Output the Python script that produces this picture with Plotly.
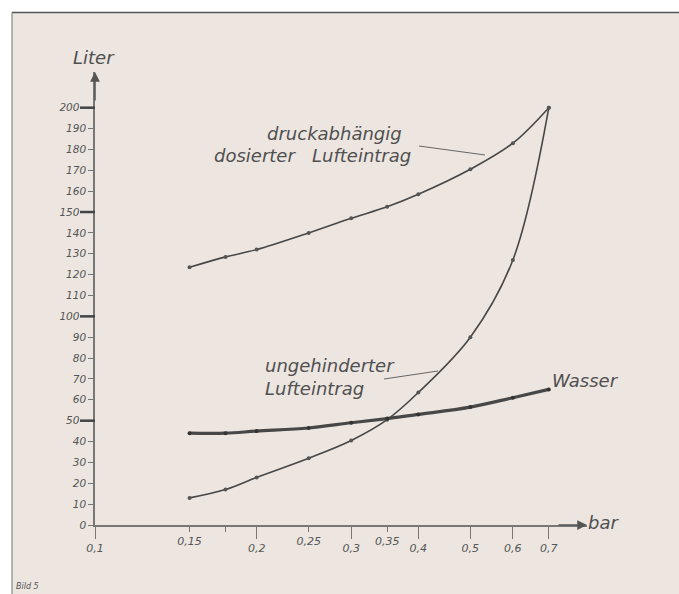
import plotly.graph_objects as go

# ---------------- data ----------------
pressure = [0.15, 0.175, 0.2, 0.25, 0.3, 0.35, 0.4, 0.5, 0.6, 0.7]
dosiert = [123.5, 128.5, 132, 140, 147, 152.5, 158.5, 170.5, 183, 200]
ungehindert = [13, 17, 22.8, 32, 40.5, 50.5, 63.5, 90, 127, 200]
wasser = [44, 44, 45, 46.5, 49, 51, 53, 56.5, 61, 65]

x_main_ticks = [0.1, 0.2, 0.3, 0.4, 0.5, 0.6, 0.7]
x_main_text = ["0,1", "0,2", "0,3", "0,4", "0,5", "0,6", "0,7"]
x_stag_ticks = [0.15, 0.175, 0.25, 0.35]
x_stag_text = ["0,15", "", "0,25", "0,35"]
y_ticks = list(range(0, 201, 10))
y_major = [50, 100, 150, 200]

# ---------------- layout helpers (window pixel coords) ----------------
L, R, T, B = 95, 587, 72, 525  # plot area in window pixels
W, H = 679, 594
def px(x):
    return (x - L) / (R - L)
def py(y):
    return (B - y) / (B - T)

INK = "#474747"
TXT = "#505050"
BG = "#ece5e0"
FONT = "DejaVu Sans"

fig = go.Figure()

def curve(y, name, width, mcolor):
    fig.add_trace(go.Scatter(
        x=pressure, y=y, name=name, mode="lines+markers",
        line=dict(color=INK, width=width, shape="spline", smoothing=1.0),
        marker=dict(size=4, color=mcolor, symbol="circle"),
        showlegend=False, hoverinfo="x+y"))

curve(dosiert, "druckabhängig dosierter Lufteintrag", 1.6, "#555")
curve(ungehindert, "ungehinderter Lufteintrag", 1.6, "#555")
curve(wasser, "Wasser", 3.2, "#333")

y_text = [("0" if v == 0 else (f"{v}\u00a0\u00a0" if v in y_major else str(v))) for v in y_ticks]
ytickfont = dict(family=FONT, size=10.5, color="#555", style="italic")
xtickfont = dict(family=FONT, size=11, color="#555", style="italic")

xr = [-1, -1 + (R - L) / 537.0]
yr = [0, (B - T) / 2.0865]

fig.update_layout(
    width=W, height=H, autosize=False,
    margin=dict(l=L, r=W - R, t=T, b=H - B, pad=0),
    paper_bgcolor=BG, plot_bgcolor="rgba(0,0,0,0)",
    xaxis=dict(type="log", range=xr, tickvals=x_main_ticks, ticktext=x_main_text,
               ticks="outside", ticklen=12, tickwidth=1, tickcolor="#777",
               showline=True, linecolor="#777", linewidth=1.5,
               showgrid=False, zeroline=False, tickfont=xtickfont),
    xaxis2=dict(type="log", range=xr, overlaying="x", anchor="y", side="bottom",
                tickvals=x_stag_ticks, ticktext=x_stag_text,
                ticks="outside", ticklen=6, tickwidth=1, tickcolor="#777",
                showline=False, showgrid=False, zeroline=False, tickfont=xtickfont),
    yaxis=dict(range=yr, tickvals=y_ticks, ticktext=y_text,
               ticks="outside", ticklen=5, tickwidth=1, tickcolor="#777",
               showline=True, linecolor="#777", linewidth=1.5,
               showgrid=False, zeroline=False, tickfont=ytickfont),
)
# dummy trace to activate xaxis2
fig.add_trace(go.Scatter(x=[0.15], y=[None], xaxis="x2", showlegend=False, hoverinfo="skip"))

shapes = [
    # white strips outside the scanned frame
    dict(type="rect", xref="paper", yref="paper", x0=px(-5), x1=px(700), y0=py(12.5), y1=py(-5),
         fillcolor="white", line=dict(width=0), layer="below"),
    dict(type="rect", xref="paper", yref="paper", x0=px(-5), x1=px(12), y0=py(620), y1=py(-5),
         fillcolor="white", line=dict(width=0), layer="below"),
    # frame border lines
    dict(type="line", xref="paper", yref="paper", x0=px(12), x1=px(700), y0=py(12.5), y1=py(12.5),
         line=dict(color="#555", width=1.5)),
    dict(type="line", xref="paper", yref="paper", x0=px(12), x1=px(12), y0=py(12.5), y1=py(620),
         line=dict(color="#888", width=1.2)),
]
for v in y_major:
    shapes.append(dict(type="line", xref="paper", yref="y", x0=px(80), x1=0, y0=v, y1=v,
                       line=dict(color="#444", width=2.5)))
# leader lines
shapes.append(dict(type="line", xref="paper", yref="paper", x0=px(419), y0=py(146), x1=px(485), y1=py(155),
                   line=dict(color="#666", width=1)))
shapes.append(dict(type="line", xref="paper", yref="paper", x0=px(384), y0=py(379), x1=px(438), y1=py(371),
                   line=dict(color="#666", width=1)))
fig.update_layout(shapes=shapes)

def text(t, x, y, size=18, anchor="left"):
    fig.add_annotation(text=t, xref="paper", yref="paper", x=px(x), y=py(y),
                       xanchor=anchor, yanchor="middle", showarrow=False,
                       font=dict(family=FONT, size=size, color=TXT, style="italic"))

text("druckabhängig", 265, 133)
text("dosierter\u00a0\u00a0 Lufteintrag", 212, 155)
text("ungehinderter", 263, 365)
text("Lufteintrag", 263, 388)
text("Wasser", 550, 381)
text("Liter", 71, 57)
text("bar", 586, 522)
text("Bild 5", 14, 586, size=8)

# axis arrows
fig.add_annotation(x=1, y=0, xref="paper", yref="paper", ax=-30, ay=0, text="",
                   showarrow=True, arrowhead=2, arrowsize=1.3, arrowwidth=1.5, arrowcolor="#555")
fig.add_annotation(x=0, y=1, xref="paper", yref="paper", ax=0, ay=30, text="",
                   showarrow=True, arrowhead=2, arrowsize=1.3, arrowwidth=1.5, arrowcolor="#555")

fig.write_html("out.html", config={"displayModeBar": False},
               post_script="document.body.style.margin='0';document.body.style.overflow='hidden';")
